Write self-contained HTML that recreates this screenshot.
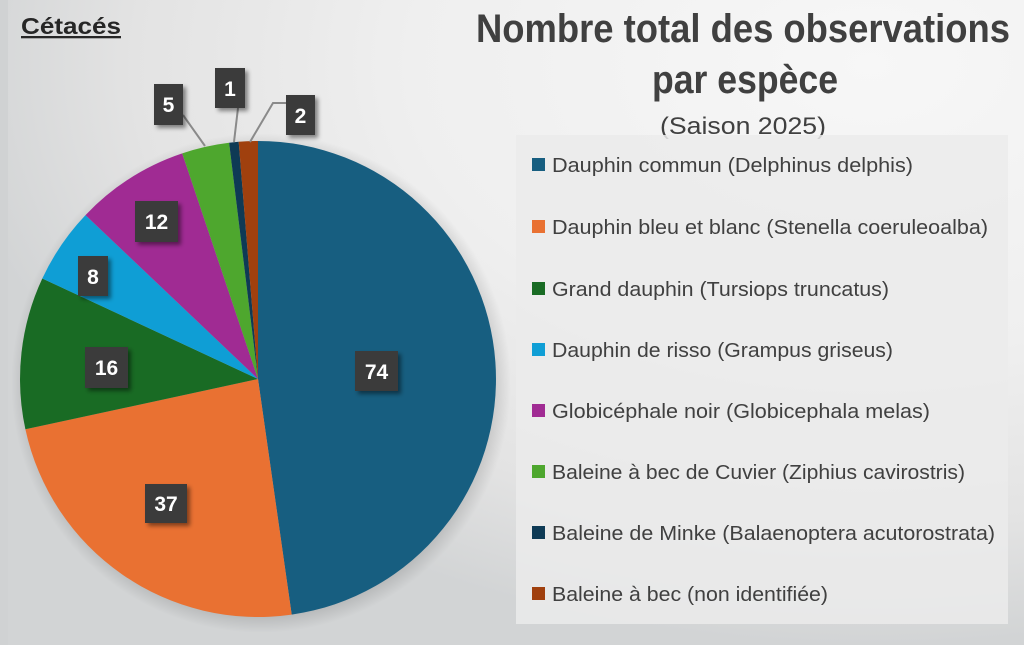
<!DOCTYPE html>
<html><head><meta charset="utf-8"><style>
html,body{margin:0;padding:0;}
body{width:1024px;height:645px;overflow:hidden;background:#e4e5e6;}
svg{display:block;}
</style></head><body>
<svg width="1024" height="645" viewBox="0 0 1024 645" xmlns="http://www.w3.org/2000/svg" font-family="'Liberation Sans', sans-serif">
<defs>
<radialGradient id="bg" cx="0.85" cy="0.1" r="0.9">
<stop offset="0" stop-color="#f7f7f7"/><stop offset="0.5" stop-color="#efefef"/><stop offset="0.8" stop-color="#e3e3e3"/><stop offset="1" stop-color="#d2d4d5"/>
</radialGradient>
<radialGradient id="sh" cx="0.5" cy="0.5" r="0.5">
<stop offset="0.9" stop-color="#000" stop-opacity="0.18"/><stop offset="1" stop-color="#000" stop-opacity="0"/>
</radialGradient>
<filter id="ds" x="-30%" y="-30%" width="160%" height="160%"><feDropShadow dx="3" dy="3" stdDeviation="2" flood-opacity="0.45"/></filter>
</defs>
<rect width="1024" height="645" fill="url(#bg)"/>
<rect x="0" y="0" width="8" height="645" fill="#d0d2d3"/>
<text x="21" y="34" font-size="23" font-weight="bold" fill="#262626" text-decoration="underline" textLength="100" lengthAdjust="spacingAndGlyphs">Cétacés</text>
<g fill="#404040" font-weight="bold" text-anchor="middle" font-family="'Liberation Sans Narrow','Liberation Sans',sans-serif">
<text x="743" y="42" font-size="40" textLength="534" lengthAdjust="spacingAndGlyphs">Nombre total des observations</text>
<text x="745" y="93" font-size="40" textLength="186" lengthAdjust="spacingAndGlyphs">par espèce</text>
</g>
<text x="743" y="134" font-size="24" fill="#404040" text-anchor="middle" textLength="166" lengthAdjust="spacingAndGlyphs">(Saison 2025)</text>
<rect x="516" y="135" width="492" height="489" fill="#ebebeb" opacity="0.85"/>
<circle cx="261" cy="383" r="250" fill="url(#sh)"/>
<g>
<path d="M258,379 L258,141 A238,238 0 0 1 291.7,614.6 Z" fill="#175e80"/>
<path d="M258,379 L291.7,614.6 A238,238 0 0 1 25.4,429.3 Z" fill="#e97132"/>
<path d="M258,379 L25.4,429.3 A238,238 0 0 1 42.3,278.5 Z" fill="#196b24"/>
<path d="M258,379 L42.3,278.5 A238,238 0 0 1 85.5,215.1 Z" fill="#0f9ed5"/>
<path d="M258,379 L85.5,215.1 A238,238 0 0 1 182.2,153.4 Z" fill="#a02b93"/>
<path d="M258,379 L182.2,153.4 A238,238 0 0 1 229.1,142.8 Z" fill="#4ea72e"/>
<path d="M258,379 L229.1,142.8 A238,238 0 0 1 238.7,141.8 Z" fill="#0e3a55"/>
<path d="M258,379 L238.7,141.8 A238,238 0 0 1 258,141 Z" fill="#a0400e"/>
</g>
<g stroke="#8a8a8a" stroke-width="2" fill="none">
<path d="M183,115 L205,146"/><path d="M238,108 L234,142"/><path d="M286,103 L273,103 L250,142"/>
</g>
<g filter="url(#ds)" fill="#3b3b3b">
<rect x="355" y="351" width="43" height="40"/>
<rect x="145" y="484" width="42" height="39"/>
<rect x="85" y="347" width="43" height="41"/>
<rect x="78" y="256" width="30" height="40"/>
<rect x="135" y="201" width="43" height="41"/>
<rect x="154" y="84" width="29" height="41"/>
<rect x="215" y="68" width="30" height="40"/>
<rect x="286" y="95" width="29" height="40"/>
</g>
<g fill="#fff" font-size="21" font-weight="bold" text-anchor="middle">
<text x="376.5" y="379">74</text><text x="166" y="511">37</text><text x="106.5" y="375">16</text>
<text x="93" y="284">8</text><text x="156.5" y="229">12</text><text x="168.5" y="112">5</text>
<text x="230" y="96">1</text><text x="300.5" y="123">2</text>
</g>
<g font-size="20" fill="#404040">
<rect x="532" y="158" width="13" height="13" fill="#175e80"/><text x="552" y="172" textLength="361" lengthAdjust="spacingAndGlyphs">Dauphin commun (Delphinus delphis)</text>
<rect x="532" y="220" width="13" height="13" fill="#e97132"/><text x="552" y="234" textLength="436" lengthAdjust="spacingAndGlyphs">Dauphin bleu et blanc (Stenella coeruleoalba)</text>
<rect x="532" y="282" width="13" height="13" fill="#196b24"/><text x="552" y="296" textLength="337" lengthAdjust="spacingAndGlyphs">Grand dauphin (Tursiops truncatus)</text>
<rect x="532" y="343" width="13" height="13" fill="#0f9ed5"/><text x="552" y="357" textLength="341" lengthAdjust="spacingAndGlyphs">Dauphin de risso (Grampus griseus)</text>
<rect x="532" y="404" width="13" height="13" fill="#a02b93"/><text x="552" y="418" textLength="378" lengthAdjust="spacingAndGlyphs">Globicéphale noir (Globicephala melas)</text>
<rect x="532" y="465" width="13" height="13" fill="#4ea72e"/><text x="552" y="479" textLength="413" lengthAdjust="spacingAndGlyphs">Baleine à bec de Cuvier (Ziphius cavirostris)</text>
<rect x="532" y="526" width="13" height="13" fill="#0e3a55"/><text x="552" y="540" textLength="443" lengthAdjust="spacingAndGlyphs">Baleine de Minke (Balaenoptera acutorostrata)</text>
<rect x="532" y="587" width="13" height="13" fill="#a0400e"/><text x="552" y="601" textLength="276" lengthAdjust="spacingAndGlyphs">Baleine à bec (non identifiée)</text>
</g>
</svg>
</body></html>
